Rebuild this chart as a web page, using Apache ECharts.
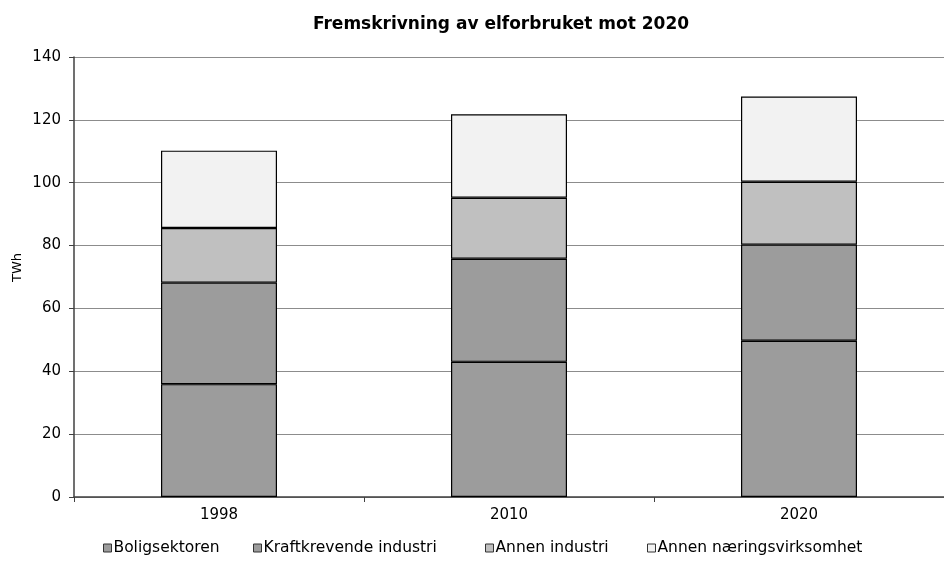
<!DOCTYPE html>
<html>
<head>
<meta charset="utf-8">
<script src="https://cdn.jsdelivr.net/npm/echarts@6/dist/echarts.min.js"></script>
<style>
  html, body { margin: 0; padding: 0; background: #ffffff; }
  #chart { width: 944px; height: 565px; }
</style>
</head>
<body>
<div id="chart"></div>
<script>
// Years on the category axis
const years = ['1998', '2010', '2020'];

// Electricity use per sector, TWh
const boligsektoren = [35.9, 43.0, 49.7];
const kraftkrevendeIndustri = [32.3, 32.8, 30.6];
const annenIndustri = [17.4, 19.4, 20.0];
const annenNaeringsvirksomhet = [24.6, 26.6, 27.1];

// Value axis ticks
const yTicks = [0, 20, 40, 60, 80, 100, 120, 140];

const seriesNames = ['Boligsektoren', 'Kraftkrevende industri', 'Annen industri', 'Annen næringsvirksomhet'];
const seriesData = [boligsektoren, kraftkrevendeIndustri, annenIndustri, annenNaeringsvirksomhet];
const seriesColors = ['#9c9c9c', '#9c9c9c', '#c0c0c0', '#f2f2f2'];

const font = 'DejaVu Sans, sans-serif';
const chart = echarts.init(document.getElementById('chart'), null, { renderer: 'canvas' });

// Left edge of each legend entry
const legendLefts = [103, 253, 485, 647];

chart.setOption({
  backgroundColor: '#ffffff',
  animation: false,
  title: {
    text: 'Fremskrivning av elforbruket mot 2020',
    left: 496,
    textAlign: 'center',
    top: 11,
    textStyle: { fontFamily: font, fontSize: 17, fontWeight: 'bold', color: '#000' }
  },
  graphic: [{
    type: 'text',
    left: 11,
    top: 253,
    rotation: Math.PI / 2,
    style: { text: 'TWh', font: '13px ' + font, fill: '#000' }
  }],
  legend: seriesNames.map((name, i) => ({
    data: [name],
    left: legendLefts[i],
    top: 540,
    padding: 0,
    icon: 'rect',
    itemWidth: 8,
    itemHeight: 8,
    itemGap: 0,
    textStyle: { fontFamily: font, fontSize: 15.5, color: '#000', padding: [0, 0, 0, -3] },
    itemStyle: { borderColor: '#333', borderWidth: 1 },
    selectedMode: false
  })),
  grid: { left: 74, right: -10, top: 57, bottom: 68, containLabel: false },
  xAxis: {
    type: 'category',
    data: years,
    axisLine: { lineStyle: { color: '#404040', width: 1.5 } },
    axisTick: { show: true, length: 5, alignWithLabel: false, lineStyle: { color: '#404040' } },
    axisLabel: { fontFamily: font, fontSize: 15, color: '#000', margin: 11 },
    splitLine: { show: false }
  },
  yAxis: {
    type: 'value',
    min: yTicks[0],
    max: yTicks[yTicks.length - 1],
    interval: yTicks[1] - yTicks[0],
    axisLine: { show: true, lineStyle: { color: '#404040', width: 1.5 } },
    axisTick: { show: true, length: 5, lineStyle: { color: '#404040' } },
    axisLabel: { fontFamily: font, fontSize: 15, color: '#000', margin: 13 },
    splitLine: { show: true, lineStyle: { color: '#8c8c8c', width: 1 } }
  },
  series: seriesNames.map((name, i) => ({
    name: name,
    type: 'bar',
    stack: 'total',
    data: seriesData[i],
    barWidth: '40%',
    itemStyle: { color: seriesColors[i], borderColor: '#000', borderWidth: 1.2 }
  }))
});
</script>
</body>
</html>
